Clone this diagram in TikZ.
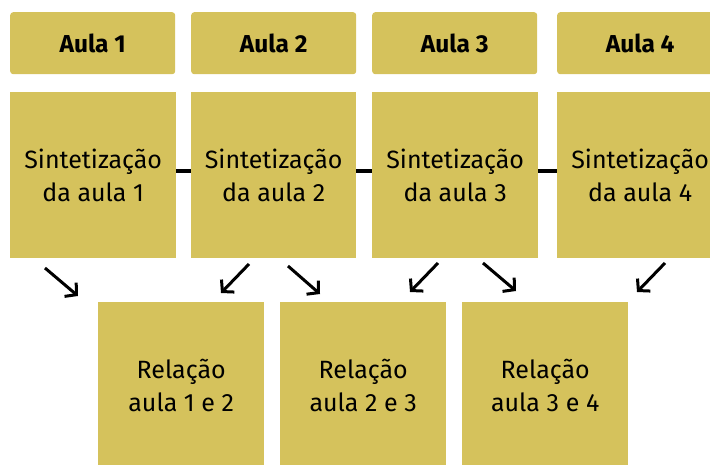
\documentclass[tikz,border=0pt]{standalone}
\usepackage{fontspec}
\setmainfont{Fira Sans}
\usetikzlibrary{arrows.meta,calc}
\definecolor{gold}{RGB}{213,194,92}
\tikzset{
  head/.style={fill=gold, draw=none, rounded corners=3pt, minimum width=165pt, minimum height=62pt, inner sep=0pt, font=\fontsize{24.5}{28}\selectfont\bfseries, anchor=north west},
  sbox/.style={fill=gold, draw=none, minimum width=166pt, minimum height=166pt, inner sep=0pt, align=center, font=\fontsize{25}{33}\selectfont, anchor=north west},
  link/.style={line width=3.5pt, black},
  arr/.style={line width=3pt, black, -{Straight Barb[length=8pt,width=18pt,line width=3pt]}}
}
\begin{document}
\begin{tikzpicture}[x=1pt,y=-1pt]
\useasboundingbox (0,0) rectangle (710,465);
\clip (0,0) rectangle (710,465);
% headers
\node[head] (h1) at (10,12) {Aula 1};
\node[head] (h2) at (191,12) {Aula 2};
\node[head] (h3) at (372,12) {Aula 3};
\node[head, minimum width=166pt] (h4) at (557,12) {Aula 4};
% synthesis boxes
\node[sbox] (s1) at (10,92) {Sintetização\\da aula 1};
\node[sbox, minimum width=165pt] (s2) at (191,92) {Sintetização\\da aula 2};
\node[sbox] (s3) at (372,92) {Sintetização\\da aula 3};
\node[sbox] (s4) at (557,92) {Sintetização\\da aula 4};
% relation boxes
\node[sbox] (r1) at (98,302) {Relação\\aula 1 e 2};
\node[sbox] (r2) at (280,302) {Relação\\aula 2 e 3};
\node[sbox] (r3) at (462,302) {Relação\\aula 3 e 4};
% links
\draw[link] ([yshift=4pt]s1.east) -- ([yshift=4pt]s2.west);
\draw[link] ([yshift=4pt]s2.east) -- ([yshift=4pt]s3.west);
\draw[link] ([yshift=4pt]s3.east) -- ([yshift=4pt]s4.west);
% arrow end points
\coordinate (a1s) at (45,268);  \coordinate (a1e) at (78,296);
\coordinate (a2s) at (249,264); \coordinate (a2e) at (221,293);
\coordinate (a3s) at (288,266); \coordinate (a3e) at (320,294);
\coordinate (a4s) at (438,263); \coordinate (a4e) at (410,292);
\coordinate (a5s) at (483,263); \coordinate (a5e) at (516,291);
\coordinate (a6s) at (665,263); \coordinate (a6e) at (637,292);
\draw[arr] (a1s) -- (a1e);
\draw[arr] (a2s) -- (a2e);
\draw[arr] (a3s) -- (a3e);
\draw[arr] (a4s) -- (a4e);
\draw[arr] (a5s) -- (a5e);
\draw[arr] (a6s) -- (a6e);
\end{tikzpicture}
\end{document}
